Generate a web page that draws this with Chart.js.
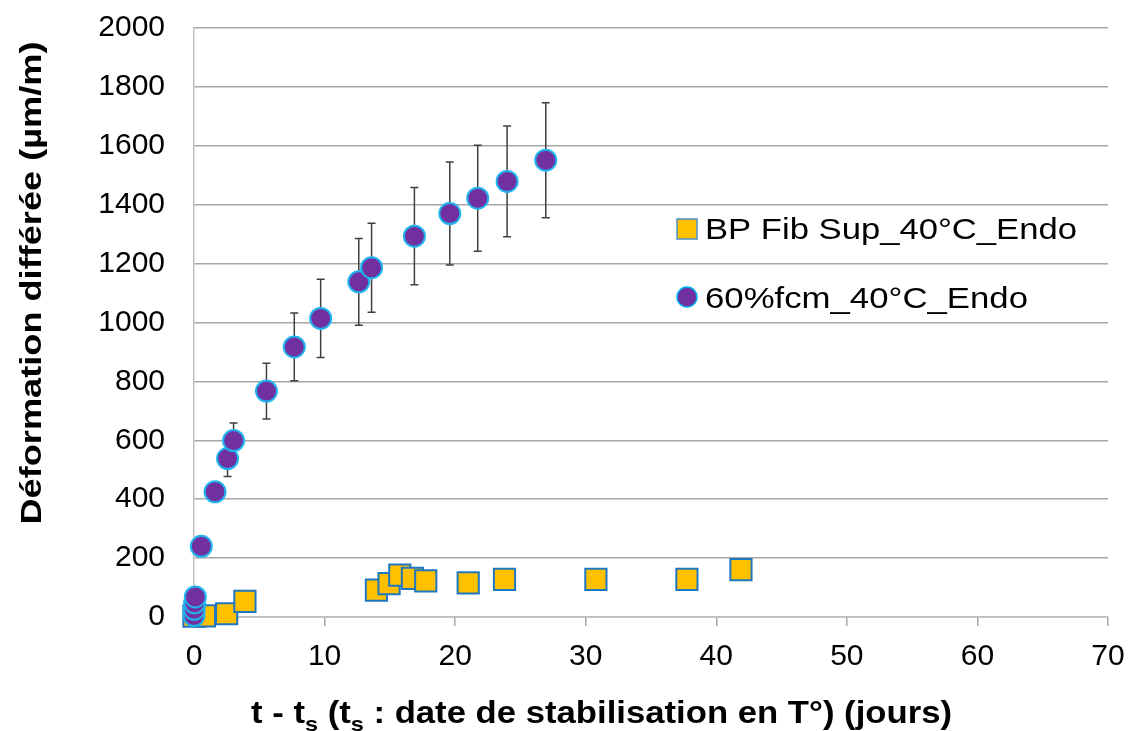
<!DOCTYPE html>
<html>
<head>
<meta charset="utf-8">
<script src="https://cdn.jsdelivr.net/npm/chart.js@4"></script>
<style>
  html, body { margin: 0; padding: 0; background: #fff; }
  #wrap { width: 1130px; height: 731px; }
</style>
</head>
<body>
<div id="wrap"><canvas id="chart"></canvas></div>
<script>
// Data
const xTicks = [0, 10, 20, 30, 40, 50, 60, 70];
const yTicks = [0, 200, 400, 600, 800, 1000, 1200, 1400, 1600, 1800, 2000];

const fibLabel = 'BP Fib Sup_40°C_Endo';
const fibX = [0, 0.8, 2.5, 3.9, 13.97, 14.94, 15.76, 16.73, 17.75, 21.0, 23.78, 30.78, 37.75, 41.89];
const fibY = [3, 4, 11, 53, 91, 113, 142, 131, 123, 116, 128, 128, 128, 161];

const fcmLabel = '60%fcm_40°C_Endo';
const fcmX = [0, 0.02, 0.05, 0.1, 0.56, 1.61, 2.57, 3.03, 5.55, 7.68, 9.70, 12.62, 13.6, 16.88, 19.59, 21.73, 23.98, 26.94];
const fcmY = [5, 26, 48, 68, 240, 425, 538, 599, 767, 917, 1014, 1138, 1186, 1293, 1370, 1422, 1479, 1551];
const fcmErr = [0, 0, 0, 0, 20, 30, 61, 60, 95, 115, 133, 147, 151, 165, 175, 180, 188, 195];

const FONT = '"Liberation Sans", Arial, sans-serif';

function toPoints(xs, ys) {
    return xs.map(function(x, i) { return { x: x, y: ys[i] }; });
}

// error bars drawn under the markers
const errorBars = {
    id: 'errorBars',
    beforeDatasetsDraw: function(chart) {
        const ctx = chart.ctx;
        const xs = chart.scales.x, ys = chart.scales.y;
        ctx.save();
        ctx.strokeStyle = '#404040';
        ctx.lineWidth = 1.5;
        fcmX.forEach(function(xv, i) {
            if (!fcmErr[i]) return;
            const px = xs.getPixelForValue(xv);
            const top = ys.getPixelForValue(fcmY[i] + fcmErr[i]);
            const bot = ys.getPixelForValue(fcmY[i] - fcmErr[i]);
            ctx.beginPath();
            ctx.moveTo(px, top); ctx.lineTo(px, bot);
            ctx.moveTo(px - 4, top); ctx.lineTo(px + 4, top);
            ctx.moveTo(px - 4, bot); ctx.lineTo(px + 4, bot);
            ctx.stroke();
        });
        ctx.restore();
    }
};

// stretched text helper
function fitText(ctx, text, x, y, width) {
    const w = ctx.measureText(text).width;
    ctx.save();
    ctx.translate(x, y);
    ctx.scale(width / w, 1);
    ctx.fillText(text, 0, 0);
    ctx.restore();
}

// axis titles (x title has subscripts) and legend inside the plot
const decorations = {
    id: 'decorations',
    afterDraw: function(chart) {
        const ctx = chart.ctx;
        ctx.save();
        ctx.fillStyle = '#000';

        // y title
        ctx.save();
        ctx.translate(33, 283);
        ctx.rotate(-Math.PI / 2);
        ctx.font = 'bold 30px ' + FONT;
        ctx.textAlign = 'center';
        ctx.textBaseline = 'middle';
        const yt = 'Déformation différée (µm/m)';
        const yw = ctx.measureText(yt).width;
        ctx.scale(483 / yw, 1);
        ctx.fillText(yt, 0, 0);
        ctx.restore();

        // x title
        const parts = [
            ['t - t', false], ['s', true], [' (t', false], ['s', true],
            [' : date de stabilisation en T°) (jours)', false]
        ];
        const big = 'bold 31px ' + FONT, small = 'bold 21px ' + FONT;
        let total = 0;
        parts.forEach(function(p) {
            ctx.font = p[1] ? small : big;
            total += ctx.measureText(p[0]).width;
        });
        ctx.save();
        ctx.translate(251, 723);
        ctx.scale(701 / total, 1);
        ctx.textAlign = 'left';
        ctx.textBaseline = 'alphabetic';
        let cx = 0;
        parts.forEach(function(p) {
            ctx.font = p[1] ? small : big;
            ctx.fillText(p[0], cx, p[1] ? 8 : 0);
            cx += ctx.measureText(p[0]).width;
        });
        ctx.restore();

        // legend
        ctx.font = '30px ' + FONT;
        ctx.textAlign = 'left';
        ctx.textBaseline = 'alphabetic';
        ctx.lineWidth = 1.5;
        ctx.fillStyle = '#ffc000';
        ctx.strokeStyle = '#4a90c8';
        ctx.fillRect(677, 219, 20, 20);
        ctx.strokeRect(677, 219, 20, 20);
        ctx.fillStyle = '#000';
        fitText(ctx, fibLabel, 705, 239, 372);

        ctx.beginPath();
        ctx.arc(687, 297, 10, 0, Math.PI * 2);
        ctx.fillStyle = '#7030a0';
        ctx.fill();
        ctx.strokeStyle = '#00b0f0';
        ctx.stroke();
        ctx.fillStyle = '#000';
        fitText(ctx, fcmLabel, 705, 308, 323);

        ctx.restore();
    }
};

const ctx = document.getElementById('chart');
new Chart(ctx, {
    type: 'scatter',
    data: {
        datasets: [{
            label: fibLabel,
            data: toPoints(fibX, fibY),
            pointStyle: 'rect',
            pointRadius: 15,
            pointHoverRadius: 15,
            backgroundColor: '#ffc000',
            borderColor: '#1f77c0',
            borderWidth: 2,
            clip: false,
            order: 1
        }, {
            label: fcmLabel,
            data: toPoints(fcmX, fcmY),
            pointStyle: 'circle',
            pointRadius: 10.5,
            pointHoverRadius: 10.5,
            backgroundColor: '#7030a0',
            borderColor: '#1fb4ee',
            borderWidth: 2,
            clip: false,
            order: 0
        }]
    },
    options: {
        responsive: true,
        maintainAspectRatio: false,
        animation: false,
        layout: { padding: { left: 0, right: 22, top: 28, bottom: 0 } },
        plugins: {
            legend: { display: false },
            tooltip: { enabled: false }
        },
        scales: {
            x: {
                type: 'linear',
                min: 0,
                max: 70,
                afterBuildTicks: function(axis) {
                    axis.ticks = xTicks.map(function(v) { return { value: v }; });
                },
                ticks: {
                    color: '#000',
                    font: { family: FONT, size: 30 },
                    padding: 13,
                    callback: function(v) { return String(v); }
                },
                grid: {
                    drawOnChartArea: false,
                    drawTicks: true,
                    tickLength: 9,
                    color: '#a6a6a6',
                    lineWidth: 1.5
                },
                border: { color: '#bfbfbf', width: 1.5 },
                afterFit: function(axis) {
                    axis.height = 114;
                    axis.paddingLeft = 0;
                    axis.paddingRight = 0;
                }
            },
            y: {
                type: 'linear',
                min: 0,
                max: 2000,
                afterBuildTicks: function(axis) {
                    axis.ticks = yTicks.map(function(v) { return { value: v }; });
                },
                ticks: {
                    color: '#000',
                    font: { family: FONT, size: 30 },
                    padding: 29,
                    callback: function(v) { return String(v); }
                },
                grid: {
                    drawTicks: false,
                    color: '#a6a6a6',
                    lineWidth: 1.5
                },
                border: { color: '#bfbfbf', width: 1.5 },
                afterFit: function(axis) {
                    axis.width = 194;
                    axis.paddingTop = 0;
                    axis.paddingBottom = 0;
                }
            }
        }
    },
    plugins: [errorBars, decorations]
});
</script>
</body>
</html>
